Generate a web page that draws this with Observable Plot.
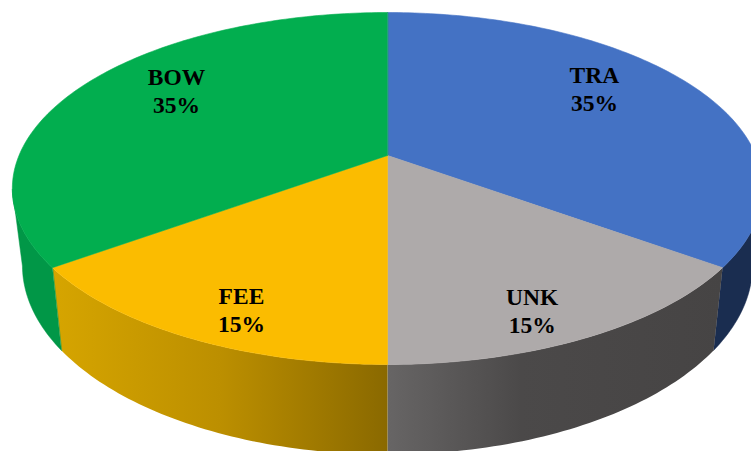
<!DOCTYPE html>
<html>
<head>
<meta charset="utf-8">
<script src="https://cdn.jsdelivr.net/npm/d3@7"></script>
<script src="https://cdn.jsdelivr.net/npm/@observablehq/plot@0.6"></script>
<style>
html,body{margin:0;padding:0;background:#fff;overflow:hidden}
svg{display:block}
</style>
</head>
<body>
<div id="chart"></div>
<script>
// Data (clockwise from 12 o'clock)
const categories = ["TRA", "UNK", "FEE", "BOW"];
const shares = [35, 15, 15, 35];

// Styling
const topColors = ["#4472C4", "#AEAAAA", "#FBBC00", "#02AE4F"];
const sideColors = ["#1A2D50", "url(#sideUnk)", "url(#sideFee)", "#019747"];

// Perspective view of the disc: [centre x, centre y, x scale, y scale]
const persp = -0.1875;
const topFace = [387, 155, 368.5, 169.8];
const baseFace = [387, 229.4, 358.6, 182.5];
const project = (face, deg, r = 1) => {
  const t = deg * Math.PI / 180, u = r * Math.sin(t), v = -r * Math.cos(t), d = 1 + persp * v;
  return {x: face[0] + face[2] * u / d, y: face[1] + face[3] * v / d};
};
const arc = (face, a, b) => {
  const n = Math.max(2, Math.ceil(Math.abs(b - a) / 1));
  return d3.range(n + 1).map(i => project(face, a + (b - a) * i / n));
};

// Slice angles from the shares
let cum = 0;
const slices = categories.map((name, i) => {
  const start = cum / 100 * 360; cum += shares[i];
  return {name, share: shares[i], start, end: cum / 100 * 360, top: topColors[i], side: sideColors[i]};
});

// Side walls run round to the disc's widest point, where the wall's edge leaves the silhouette
const sideRange = [[101, 126], [126, 180], [180, 234], [234, 259]];

// Label anchors on the disc: radius fraction and bearing
const labelRadius = [0.741, 0.845, 0.846, 0.742];
const labelBearing = [54.9, 156.6, 203.6, 303.8];

const sideMarks = slices.map((s, i) => {
  const [a, b] = sideRange[i];
  const pts = [...arc(topFace, a, b), ...arc(baseFace, b, a)];
  const solid = !s.side.startsWith("url");
  return Plot.line(pts, {x: "x", y: "y", fill: s.side, stroke: solid ? s.side : "none", strokeWidth: 0.5, curve: "linear-closed"});
});
const topMarks = slices.map(s => {
  const pts = [project(topFace, 0, 0), ...arc(topFace, s.start, s.end)];
  return Plot.line(pts, {x: "x", y: "y", fill: s.top, stroke: s.top, strokeWidth: 0.6, curve: "linear-closed"});
});
const labels = slices.map((s, i) => ({
  ...project(topFace, labelBearing[i], labelRadius[i]),
  text: `${s.name}\n${s.share}%`
}));

const chart = Plot.plot({
  width: 751, height: 451,
  margin: 0,
  x: {domain: [0, 751], range: [0, 751], axis: null},
  y: {domain: [0, 451], range: [0, 451], axis: null},
  style: {background: "#fff"},
  marks: [
    ...sideMarks,
    ...topMarks,
    Plot.text(labels, {
      x: "x", y: "y", text: "text",
      fontFamily: "Liberation Serif", fontSize: 23.5, fontWeight: "bold",
      lineHeight: 1.19, fill: "#000", textAnchor: "middle"
    })
  ]
});

// Shaded wall gradients
const ns = "http://www.w3.org/2000/svg";
const defs = document.createElementNS(ns, "defs");
const gradients = {
  sideFee: [[0, "#D6A500"], [0.5, "#BC8F00"], [1, "#8A6900"]],
  sideUnk: [[0, "#676565"], [0.4, "#4B4949"], [1, "#464444"]]
};
for (const [id, stops] of Object.entries(gradients)) {
  const g = document.createElementNS(ns, "linearGradient");
  g.setAttribute("id", id);
  for (const [o, c] of stops) {
    const st = document.createElementNS(ns, "stop");
    st.setAttribute("offset", o);
    st.setAttribute("stop-color", c);
    g.appendChild(st);
  }
  defs.appendChild(g);
}
chart.prepend(defs);
document.getElementById("chart").appendChild(chart);
</script>
</body>
</html>
